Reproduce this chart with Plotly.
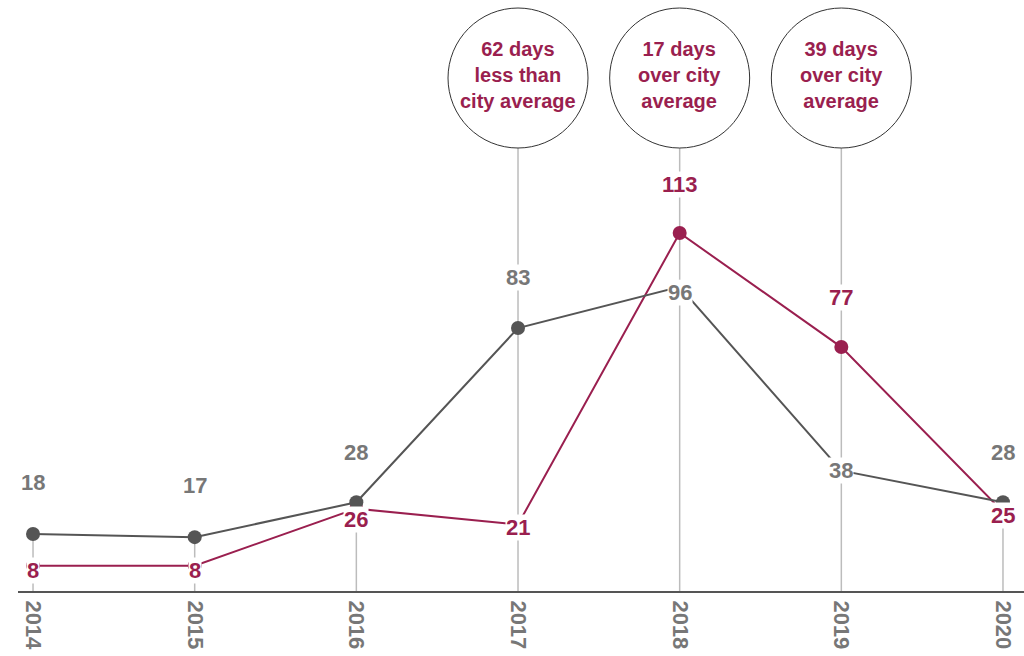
import plotly.graph_objects as go

# Yearly counts for the neighbourhood (maroon) and the city reference (gray)
years = [2014, 2015, 2016, 2017, 2018, 2019, 2020]
city_days = [18, 17, 28, 83, 96, 38, 28]
area_days = [8, 8, 26, 21, 113, 77, 25]

# Callout bubbles above selected years
note_years = [2017, 2018, 2019]
note_texts = [
    "62 days<br>less than<br>city average",
    "17 days<br>over city<br>average",
    "39 days<br>over city<br>average",
]

GRAY_LINE = "#555555"
GRAY_TEXT = "#777777"
MAROON = "#9a1f4f"
GUIDE = "#bcbcbc"
FONT = "Liberation Sans, Arial, sans-serif"

# label placement (pixels above the point; negative = slightly below centre)
city_label_shift = [51, 52, 50, 51, -6, 0, 50]
area_label_shift = [-5, -5, -11, -3, 49, 50, -4]

Y_TOP = 186.55
CIRCLE_CY = 0.868    # paper coords of bubble centre
CIRCLE_R = 70        # px
CIRCLE_BOTTOM = (591 - 148) / 591

fig = go.Figure()

fig.add_trace(go.Scatter(
    x=years, y=area_days, mode="lines+markers",
    line=dict(color=MAROON, width=2),
    marker=dict(color=MAROON, size=14),
    hoverinfo="skip", showlegend=False,
))
fig.add_trace(go.Scatter(
    x=years, y=city_days, mode="lines+markers",
    line=dict(color=GRAY_LINE, width=2),
    marker=dict(color=GRAY_LINE, size=14),
    hoverinfo="skip", showlegend=False,
))

# vertical guides: up to the bubble where there is one, else up to the higher point
shapes = []
for yr, c, a in zip(years, city_days, area_days):
    if yr in note_years:
        shapes.append(dict(type="line", xref="x", yref="paper", x0=yr, x1=yr,
                           y0=0, y1=CIRCLE_BOTTOM, layer="below",
                           line=dict(color=GUIDE, width=1.5)))
    else:
        shapes.append(dict(type="line", xref="x", yref="y", x0=yr, x1=yr,
                           y0=0, y1=max(c, a), layer="below",
                           line=dict(color=GUIDE, width=1.5)))

annotations = []
for yr, txt in zip(note_years, note_texts):
    shapes.append(dict(type="circle", xref="x", yref="paper",
                       xsizemode="pixel", ysizemode="pixel",
                       xanchor=yr, yanchor=CIRCLE_CY,
                       x0=-CIRCLE_R, x1=CIRCLE_R, y0=-CIRCLE_R, y1=CIRCLE_R,
                       line=dict(color="#333333", width=1), fillcolor="rgba(0,0,0,0)"))
    annotations.append(dict(x=yr, y=CIRCLE_CY, xref="x", yref="paper", yshift=3,
                            xanchor="center", yanchor="middle",
                            text=txt, showarrow=False, align="center",
                            font=dict(family=FONT, size=20, color=MAROON, weight="bold")))

label_font = dict(family=FONT, size=22, weight="bold")
series_labels = [(city_days, city_label_shift, GRAY_TEXT),
                 (area_days, area_label_shift, MAROON)]
for values, shifts, col in series_labels:
    for yr, v, s in zip(years, values, shifts):
        annotations.append(dict(x=yr, y=v, xref="x", yref="y", yshift=s,
                                xanchor="center", yanchor="middle",
                                text=str(v), showarrow=False,
                                bgcolor="#ffffff", borderpad=0,
                                font=dict(label_font, color=col)))

fig.update_layout(
    width=1024, height=656,
    margin=dict(l=18, r=0, t=0, b=65),
    paper_bgcolor="white", plot_bgcolor="white",
    shapes=shapes, annotations=annotations,
    xaxis=dict(range=[2013.907, 2020.13], tickvals=years,
               ticktext=[str(y) for y in years], tickangle=90,
               showgrid=False, zeroline=False, showline=True,
               linecolor=GRAY_LINE, linewidth=2, ticks="",
               ticklabelstandoff=3,
               tickfont=dict(family=FONT, size=22, color=GRAY_TEXT, weight="bold")),
    yaxis=dict(range=[0, Y_TOP], visible=False, showgrid=False, zeroline=False),
)

fig.write_html("out.html", config={"displayModeBar": False})
